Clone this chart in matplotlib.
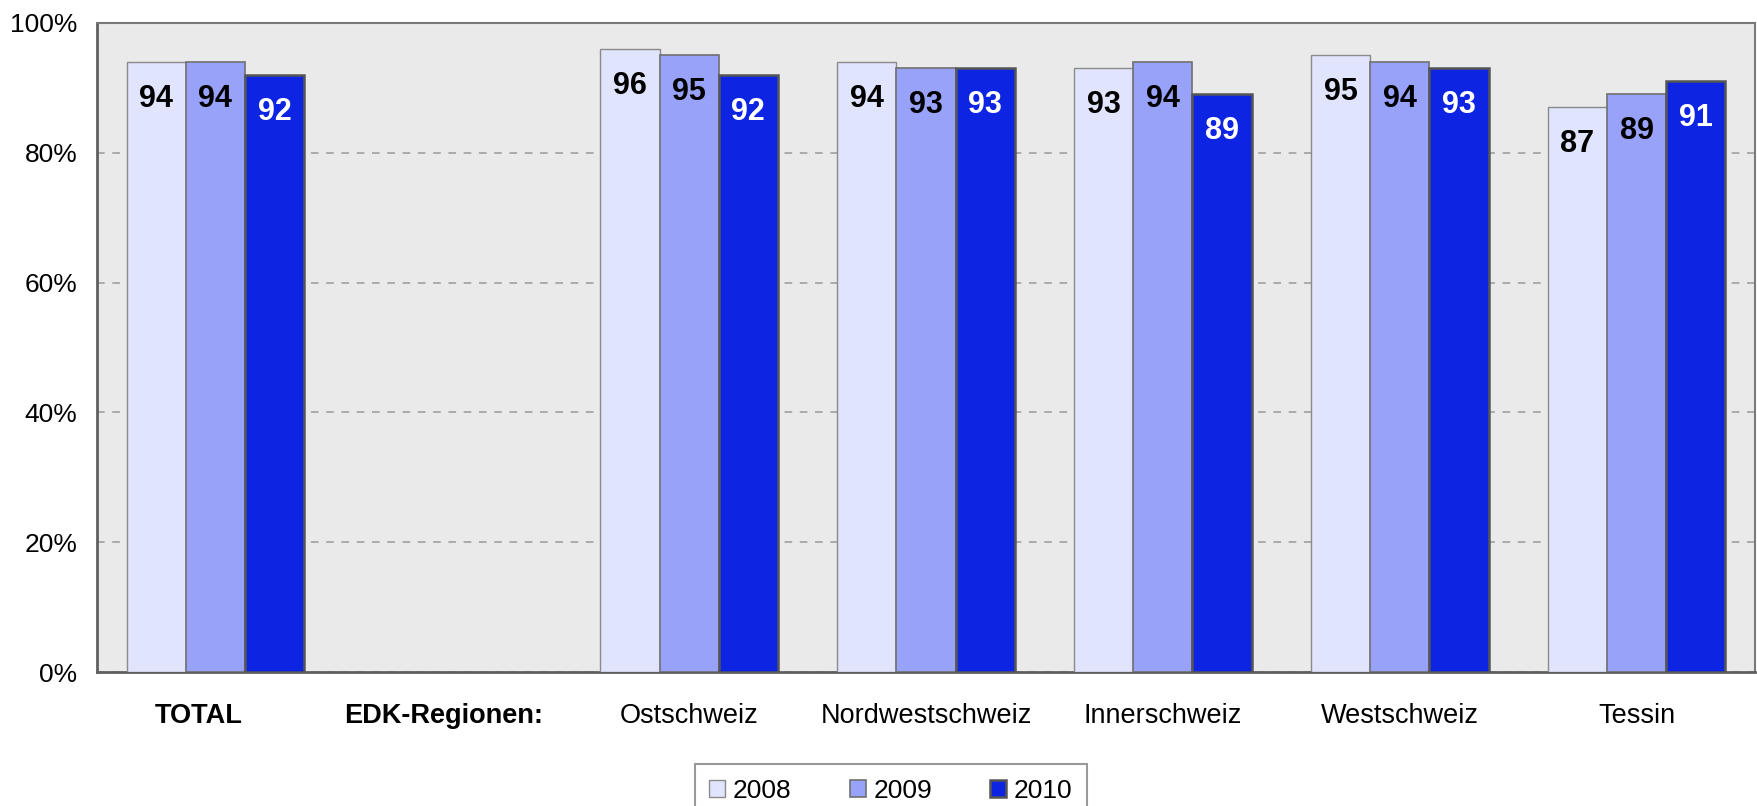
import numpy as np
import matplotlib
matplotlib.use("Agg")
import matplotlib.pyplot as plt
import matplotlib.transforms as mtransforms

plt.rcParams['font.family'] = ['Liberation Sans', 'DejaVu Sans']

categories = ['TOTAL', 'EDK-Regionen:', 'Ostschweiz', 'Nordwestschweiz',
              'Innerschweiz', 'Westschweiz', 'Tessin']
years = ['2008', '2009', '2010']
v2008 = [94, np.nan, 96, 94, 93, 95, 87]
v2009 = [94, np.nan, 95, 93, 94, 94, 89]
v2010 = [92, np.nan, 92, 93, 89, 93, 91]
yticks = [0, 20, 40, 60, 80, 100]

series = [v2008, v2009, v2010]
colors = ['#E0E4FD', '#97A2F8', '#0D25E3']
edges = ['#8a8a8a', '#707070', '#555555']
edge_w = [1.0, 1.2, 1.8]
label_colors = ['black', 'black', 'white']

fig = plt.figure(figsize=(17.57, 8.06), dpi=100)
ax = fig.add_axes([97 / 1757, 1 - 672 / 806, (1755 - 97) / 1757, (672 - 23) / 806])
ax.set_facecolor('#EAEAEA')

x = np.arange(len(categories))
w = 0.25
for i, vals in enumerate(series):
    pos = x + (i - 1) * w
    ax.bar(pos, vals, w, color=colors[i], edgecolor=edges[i],
           linewidth=edge_w[i], label=years[i], zorder=3)
    for xp, v in zip(pos, vals):
        if np.isnan(v):
            continue
        ax.annotate(f'{v:.0f}', (xp, v), xytext=(0, -24), textcoords='offset points',
                    ha='center', va='center_baseline', fontsize=22, fontweight='bold',
                    color=label_colors[i], zorder=4)

ax.set_xlim(-0.5, len(categories) - 0.5)
ax.set_ylim(0, 100)
ax.set_yticks(yticks)
ax.set_yticklabels([f'{t}%' for t in yticks], fontsize=19)
ax.yaxis.grid(True, linestyle=(0, (5, 5)), color='#9a9a9a', linewidth=1.1, zorder=1)
ax.set_axisbelow(True)
ax.tick_params(axis='y', length=0, pad=14)
ax.tick_params(axis='x', length=0, pad=22)

ax.set_xticks(x)
ax.set_xticklabels(categories, fontsize=19.5)
labels = ax.get_xticklabels()
for lbl, dx in [(labels[0], -17), (labels[1], -9)]:
    lbl.set_fontweight('bold')
    lbl.set_transform(lbl.get_transform() +
                      mtransforms.ScaledTranslation(dx / 100, 0, fig.dpi_scale_trans))

for side in ['left', 'bottom']:
    ax.spines[side].set_color('#606060')
    ax.spines[side].set_linewidth(2)
for side in ['top', 'right']:
    ax.spines[side].set_color('#7a7a7a')
    ax.spines[side].set_linewidth(1.5)

# legend box runs off the bottom edge like in the original
leg = fig.legend(loc='upper center', bbox_to_anchor=(891 / 1757, 1 - 764 / 806),
                 ncol=3, fontsize=19, frameon=True, fancybox=False,
                 edgecolor='#808080', handlelength=0.6, handleheight=0.6,
                 handletextpad=0.3, columnspacing=2.2, borderpad=0.55,
                 borderaxespad=0)
leg.get_frame().set_linewidth(1.5)

fig.savefig('out.png', dpi=100)
